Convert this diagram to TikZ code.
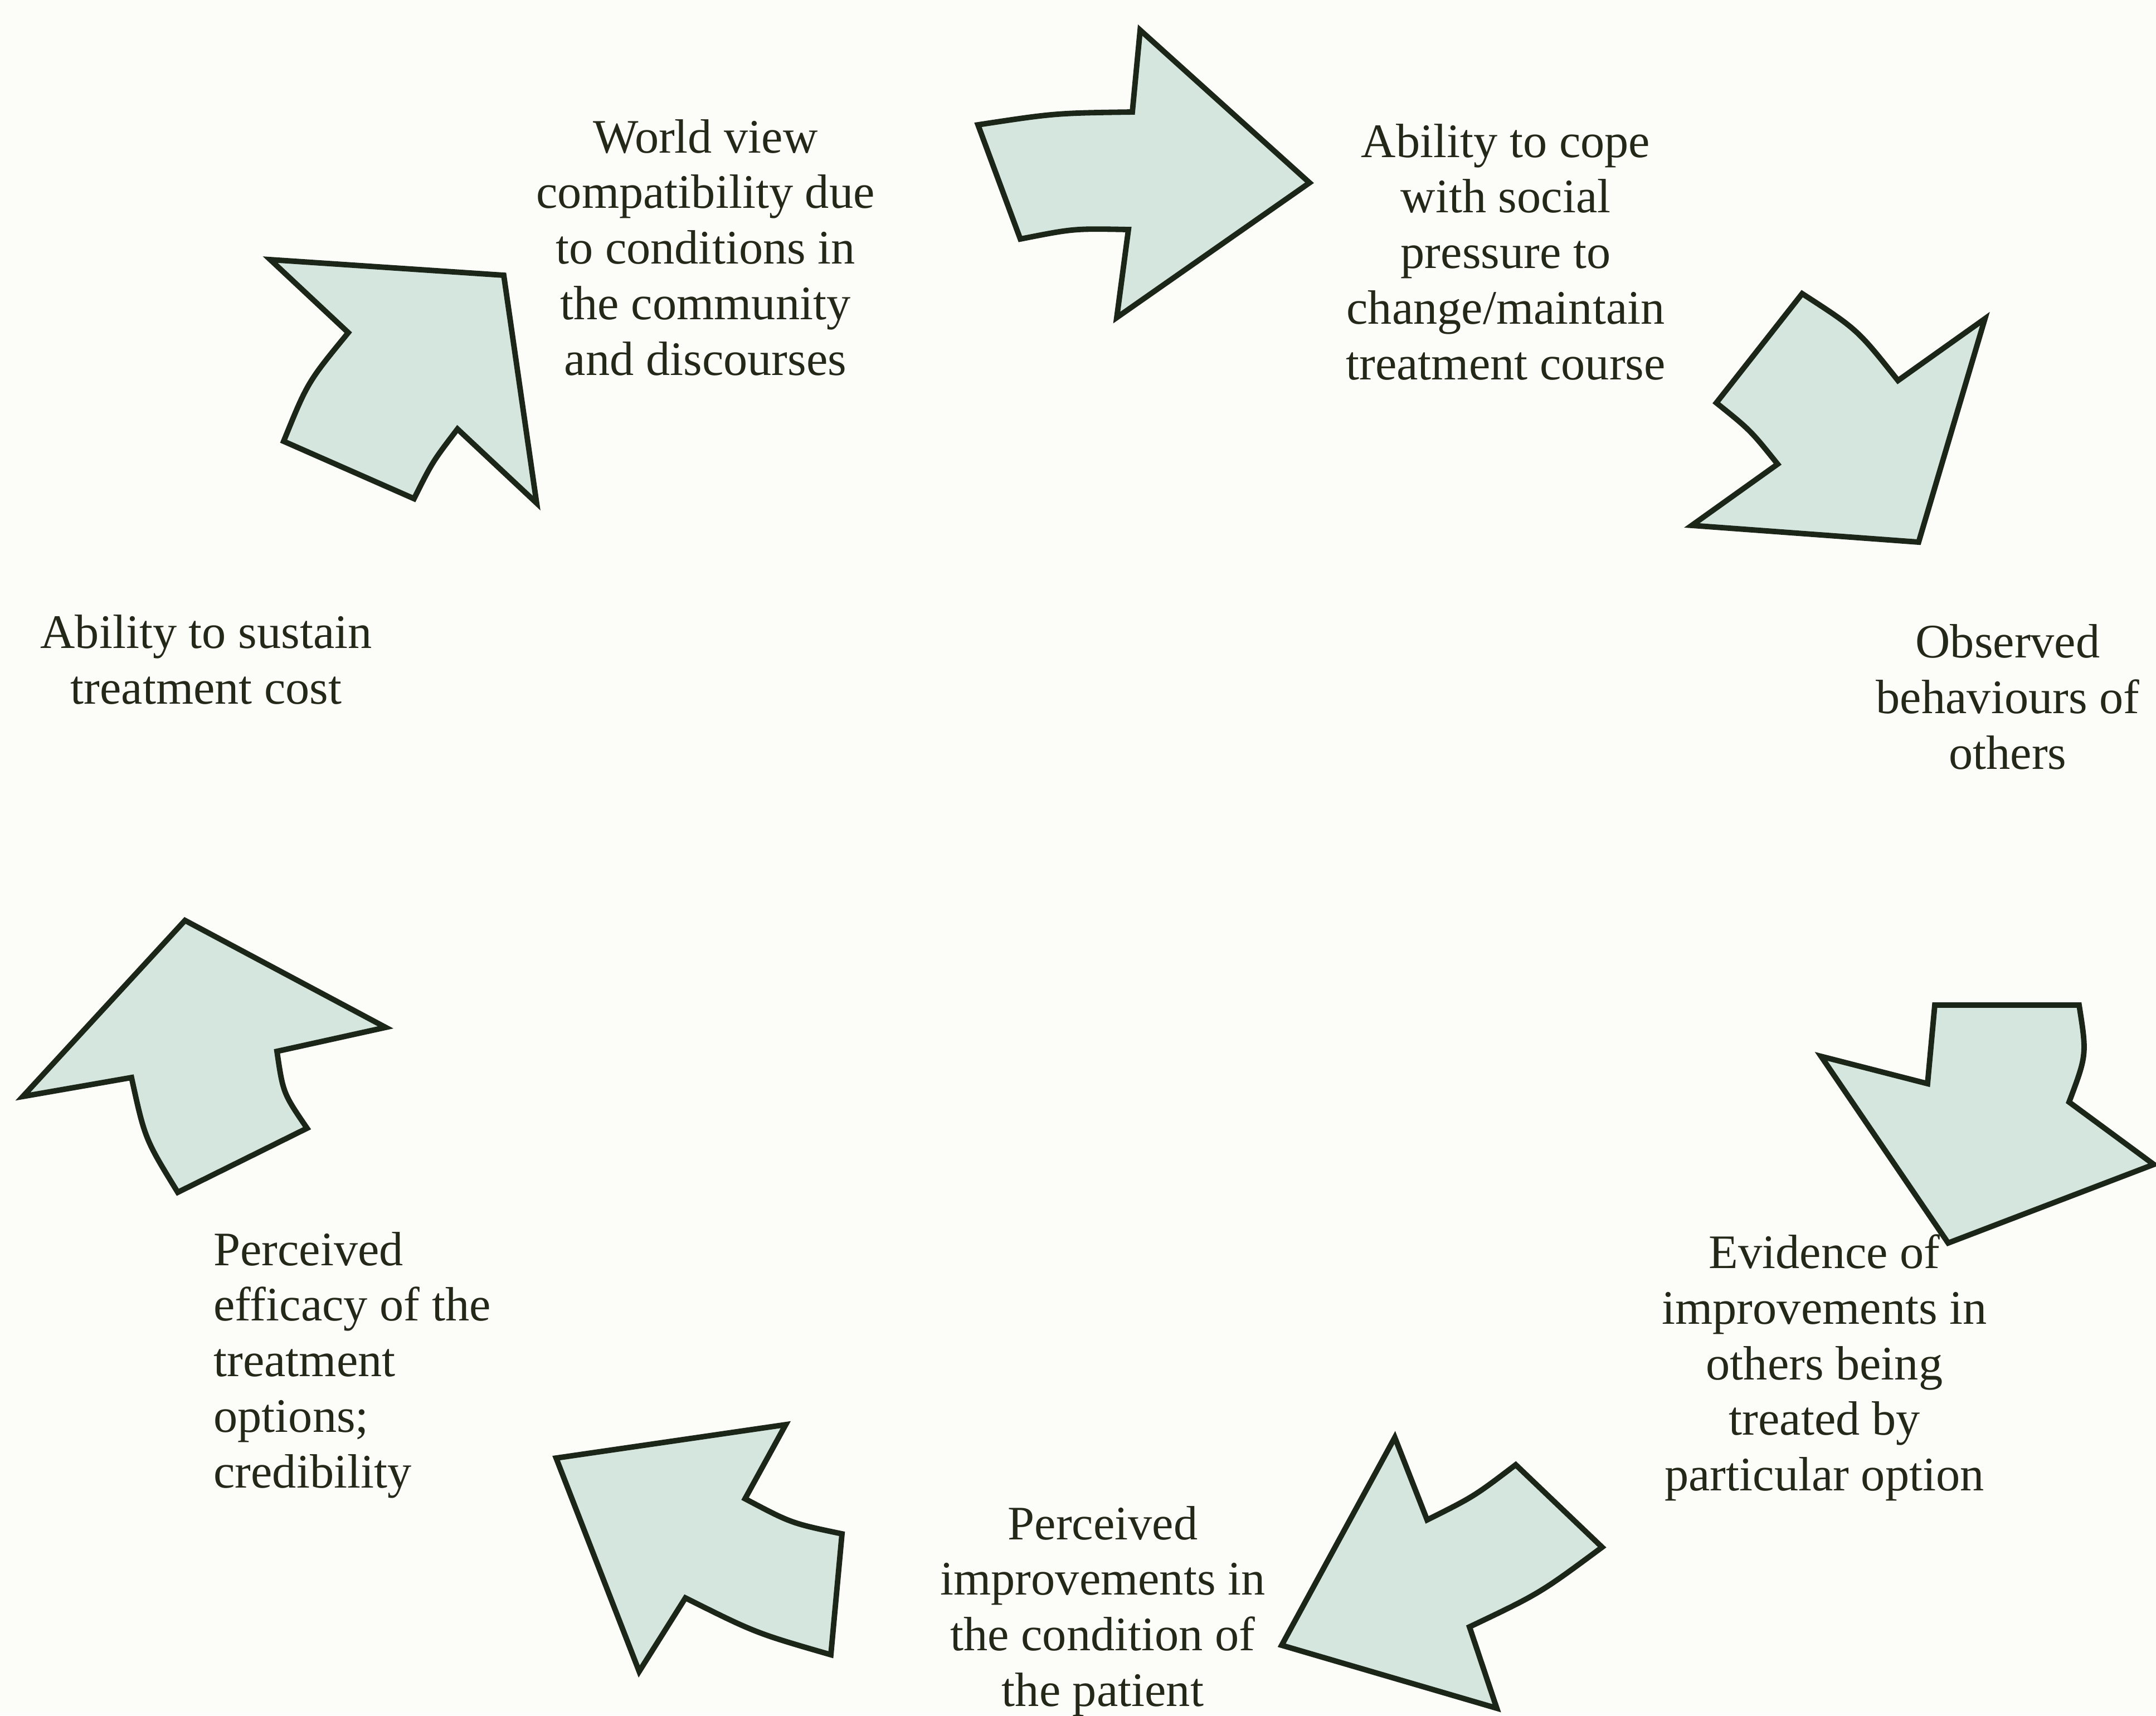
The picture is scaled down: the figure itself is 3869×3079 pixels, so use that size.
\documentclass[tikz,border=0pt]{standalone}
\usepackage{fontspec}
\setmainfont{Liberation Serif}
\definecolor{arrowfill}{RGB}{212,230,222}
\definecolor{arrowline}{RGB}{28,38,24}
\definecolor{paper}{RGB}{252,252,248}
\definecolor{inktext}{RGB}{35,40,25}
\begin{document}
\begin{tikzpicture}[x=0.005cm,y=-0.005cm,
  blockarrow/.style={fill=arrowfill,draw=arrowline,line width=1.4pt,line join=miter},
  cue/.style={font=\fontsize{12.3}{14.2}\selectfont,text=inktext,align=center,inner sep=0pt}]
\useasboundingbox (0,0) rectangle (3869,3079);
\fill[paper] (0,0) rectangle (3869,3079);
% arrows round the cycle
\draw[blockarrow] (485,466) -- (904,494) -- (963,903) -- (821,770) .. controls (776,829) .. (743,895)
      -- (509,792) .. controls (552,686) .. (625,597) -- cycle;
\draw[blockarrow] (1755,224) .. controls (1893,203) .. (2032,201) -- (2046,54) -- (2350,328) -- (2004,570)
      -- (2025,412) .. controls (1927,410) .. (1831,429) -- cycle;
\draw[blockarrow] (3443,973) -- (3562,572) -- (3406,683) .. controls (3333,591) .. (3234,527) -- (3080,723)
      .. controls (3141,772) .. (3190,833) -- (3036,943) -- cycle;
\draw[blockarrow] (3472,1804) -- (3731,1804) .. controls (3745,1893) .. (3713,1978) -- (3865,2090)
      -- (3496,2231) -- (3268,1896) -- (3459,1945) -- cycle;
\draw[blockarrow] (2300,2953) -- (2503,2580) -- (2561,2728) .. controls (2645,2686) .. (2720,2629)
      -- (2875,2777) .. controls (2763,2860) .. (2637,2920) -- (2686,3066) -- cycle;
\draw[blockarrow] (998,2617) -- (1410,2557) -- (1337,2690) .. controls (1420,2734) .. (1511,2753)
      -- (1491,2970) .. controls (1356,2931) .. (1230,2868) -- (1147,3000) -- cycle;
\draw[blockarrow] (332,1652) -- (692,1844) -- (497,1887) .. controls (508,1962) .. (551,2025)
      -- (319,2140) .. controls (260,2044) .. (236,1934) -- (41,1968) -- cycle;
% factors
\node[cue] (worldview) at (1266,444) {World view\\compatibility due\\to conditions in\\the community\\and discourses};
\node[cue] (coping) at (2702,452) {Ability to cope\\with social\\pressure to\\change/maintain\\treatment course};
\node[cue] (observed) at (3603,1251) {Observed\\behaviours of\\others};
\node[cue] (evidence) at (3274,2455) {Evidence of\\improvements in\\others being\\treated by\\particular option};
\node[cue] (patient) at (1979,2892) {Perceived\\improvements in\\the condition of\\the patient};
\node[cue,align=left,anchor=west] (efficacy) at (382,2450) {Perceived\\efficacy of the\\treatment\\options;\\credibility};
\node[cue] (cost) at (370,1184) {Ability to sustain\\treatment cost};
\end{tikzpicture}
\end{document}
